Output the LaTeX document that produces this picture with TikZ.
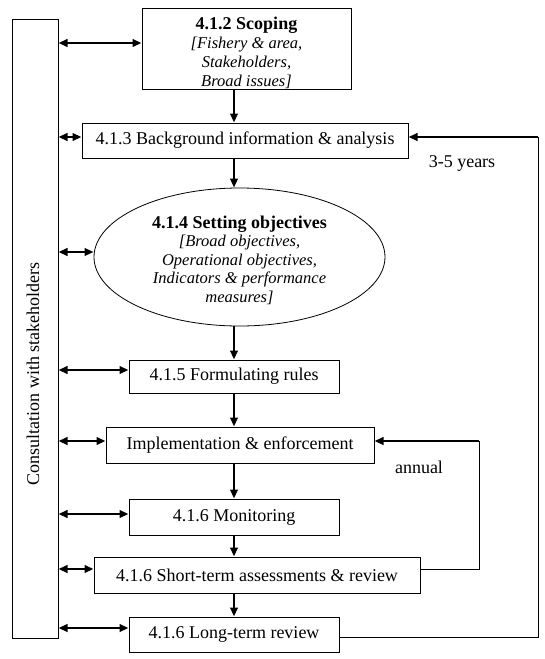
\documentclass[tikz,border=0pt]{standalone}
\usepackage{fontspec}
\setmainfont{Liberation Serif}
\usetikzlibrary{shapes.geometric,arrows.meta}
\begin{document}
\begin{tikzpicture}[x=1pt,y=-1pt,
  box/.style={draw, line width=1pt, inner sep=0pt, align=center, font=\fontsize{18}{20}\selectfont},
  txt/.style={inner sep=0pt, align=center},
  arr/.style={line width=2.5pt, -{Triangle[length=9pt,width=7.5pt]}},
  dbl/.style={line width=2.2pt, {Triangle[length=9pt,width=7.5pt]}-{Triangle[length=9pt,width=7.5pt]}},
  thinln/.style={line width=1pt},
  lbl/.style={font=\fontsize{18}{20}\selectfont, inner sep=0pt}]
\useasboundingbox (0,0) rectangle (545,659);
% consultation column
\node[box, minimum width=46pt, minimum height=619pt] (cons) at (35,328.5) {};
\node[rotate=90, font=\fontsize{18}{20}\selectfont, inner sep=0pt] (constext) at (33,374) {Consultation with stakeholders};
% process nodes
\node[box, minimum width=209pt, minimum height=81pt] (scop) at (246.5,48.5) {};
\node[txt, font=\fontsize{16.5}{19}\selectfont] (scoptext) at (246.5,52.5)
  {{\fontsize{18}{19}\selectfont\bfseries 4.1.2 Scoping}\\{\itshape [Fishery \& area,}\\{\itshape Stakeholders,}\\{\itshape Broad issues]}};
\node[box, minimum width=326pt, minimum height=35pt] (bg) at (245,140.5) {4.1.3 Background information \& analysis};
\node[box, ellipse, line width=0.8pt, minimum width=291pt, minimum height=138pt] (obj) at (239.5,257) {};
\node[txt, font=\fontsize{16.5}{18.5}\selectfont] (objtext) at (239.5,260)
  {{\fontsize{18}{18.5}\selectfont\bfseries 4.1.4 Setting objectives}\\{\itshape [Broad objectives,}\\{\itshape Operational objectives,}\\{\itshape Indicators \& performance}\\{\itshape measures]}};
\node[box, minimum width=210pt, minimum height=33pt] (rules) at (234,376.5) {4.1.5 Formulating rules};
\node[box, minimum width=268pt, minimum height=36pt] (impl) at (240,445) {Implementation \& enforcement};
\node[box, minimum width=210pt, minimum height=36pt] (mon) at (234,517) {4.1.6 Monitoring};
\node[box, minimum width=326pt, minimum height=36pt] (short) at (257,575) {4.1.6 Short-term assessments \& review};
\node[box, minimum width=210pt, minimum height=35pt] (long) at (234,634.5) {4.1.6 Long-term review};
% labels
\node[lbl] (yrs) at (462,163) {3-5 years};
\node[lbl] (ann) at (419,467) {annual};
% main flow
\draw[arr] (rules.center |- scop.south) -- (rules.center |- bg.north);
\draw[arr] (rules.center |- bg.south) -- (rules.center |- obj.north);
\draw[arr] (rules.center |- obj.south) -- (rules.north);
\draw[arr] (rules.south) -- (rules.center |- impl.north);
\draw[arr] (rules.center |- impl.south) -- (mon.north);
\draw[arr] (mon.south) -- (rules.center |- short.north);
\draw[arr] (rules.center |- short.south) -- (long.north);
% consultation arrows
\coordinate (scopW) at ([yshift=5.5pt]scop.west);
\coordinate (bgW) at ([yshift=3.5pt]bg.west);
\coordinate (objW) at ([yshift=5pt]obj.west);
\coordinate (rulesW) at ([yshift=6.5pt]rules.west);
\coordinate (implW) at ([yshift=4pt]impl.west);
\coordinate (monW) at ([yshift=3pt]mon.west);
\coordinate (shortW) at ([yshift=6pt]short.west);
\coordinate (longW) at ([yshift=6.5pt]long.west);
\foreach \n in {scopW,bgW,objW,rulesW,implW,monW,shortW,longW}
  \draw[dbl] (cons.east |- \n) -- (\n);
% feedback loops
\coordinate (r1) at (538,637);
\coordinate (r2) at (538,137);
\draw[thinln] (long.east |- r1) -- (r1) -- (r2);
\draw[arr] (r2) -- (bg.east |- r2);
\coordinate (a1) at (479,569);
\coordinate (a2) at (479,441);
\draw[thinln] (short.east |- a1) -- (a1) -- (a2);
\draw[arr] (a2) -- (impl.east |- a2);
\end{tikzpicture}
\end{document}
